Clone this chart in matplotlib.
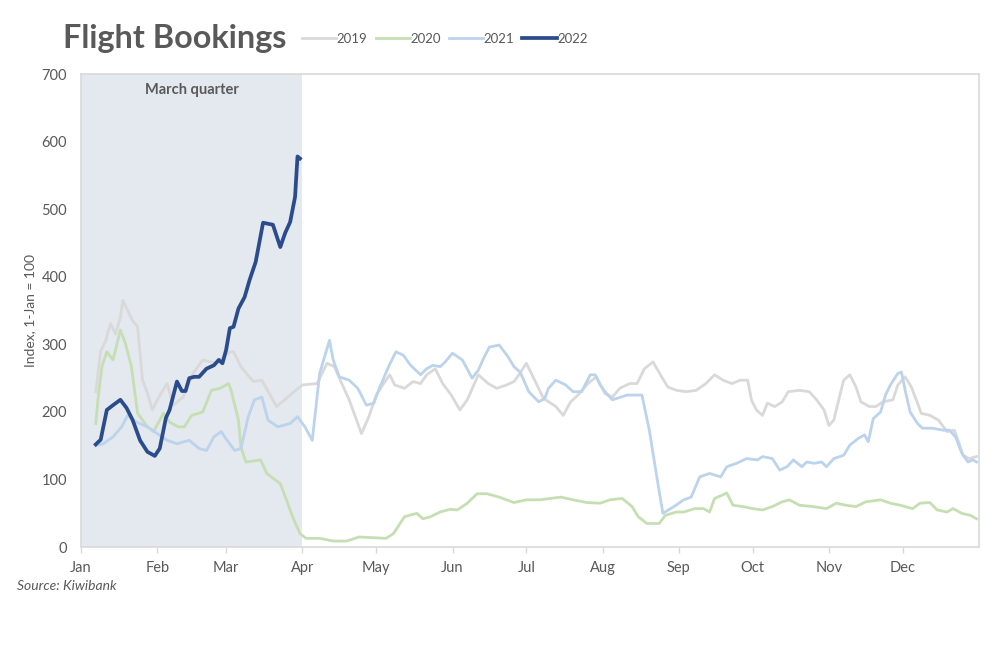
"""
Flight bookings index by calendar year (1-Jan = 100), Kiwibank.
"""

import matplotlib
matplotlib.use('Agg')

import matplotlib.pyplot as plt

# day of year -> index value
days_2019 = [6, 8, 10, 12, 14, 16, 17, 19, 21, 23, 25, 27, 29, 31, 35, 37.5, 41.5, 45.5, 49.5,
             55, 60.5, 62, 65, 70, 73.5, 79.5, 86, 90, 96, 100, 103, 106, 109, 112, 114, 117,
             120, 123, 125.5, 127.5, 131.5, 135, 138, 140.5, 144, 147, 150.5, 154, 157, 161.5,
             165.5, 169, 173, 176, 178, 181, 184, 188, 193, 196, 199, 202, 206, 209.5, 213,
             216, 219, 223, 226, 229, 232.5, 236, 238.5, 242, 246, 250, 254, 257.5, 261,
             264.5, 268, 271, 272.5, 274.5, 277, 279, 282, 285, 287.5, 292, 296, 299, 302,
             304, 306, 308, 310, 312.5, 315, 317, 320.5, 323, 326, 330, 332, 335, 337.5,
             340, 341.5, 345, 348.5, 352, 355, 356.5, 358.5, 361, 364]
vals_2019 = [230, 290, 305, 331, 315, 340, 365, 350, 335, 326, 247, 228, 203, 218, 242, 210,
             222, 257, 277, 272, 289, 289, 267, 245, 247, 208, 228, 240, 242, 272, 267, 242,
             218, 188, 168, 193, 225, 242, 255, 240, 235, 245, 242, 255, 264, 242, 225, 203,
             218, 255, 242, 235, 240, 245, 255, 272, 250, 220, 208, 195, 215, 225, 242, 252,
             227, 222, 235, 242, 242, 264, 274, 252, 237, 232, 230, 232, 242, 255, 247, 242,
             247, 247, 218, 203, 195, 213, 208, 215, 230, 232, 230, 218, 203, 180, 188, 218,
             247, 255, 237, 215, 208, 208, 215, 218, 240, 252, 237, 213, 198, 195, 188, 171,
             173, 158, 136, 131, 134]

days_2020 = [6, 7, 8.5, 10.5, 13, 16, 18, 20.5, 23, 27, 29.5, 33.5, 36, 39.5, 42, 45, 49.5,
             53, 56.5, 60, 61, 64, 65, 67, 73, 75.5, 81, 83.5, 86, 89, 91.5, 97, 102.5, 108,
             113, 124, 127, 131.5, 136.5, 139, 142, 146, 150, 153, 157, 161, 165, 170, 176,
             181, 186.5, 195, 200, 205.5, 211, 215, 220, 224, 226.5, 230, 235, 237.5, 242,
             245, 249.5, 253, 255.5, 257.5, 262.5, 265, 269, 273, 277, 281, 285, 288, 292,
             297.5, 303, 307, 311, 315, 319, 325, 329, 333, 338, 341, 345, 348, 352, 354.5,
             358, 361.5, 364]
vals_2020 = [183, 222, 267, 289, 277, 321, 302, 267, 198, 178, 171, 198, 185, 178, 178, 195,
             200, 232, 235, 242, 232, 188, 148, 126, 129, 109, 94, 70, 45, 20, 13, 13, 9, 9,
             15, 13, 20, 45, 50, 42, 45, 52, 56, 55, 65, 79, 79, 74, 66, 70, 70, 74, 70, 66,
             65, 70, 72, 60, 45, 35, 35, 47, 52, 52, 57, 57, 52, 72, 80, 62, 60, 57, 55, 60,
             67, 70, 62, 60, 57, 65, 62, 60, 67, 70, 65, 62, 57, 65, 66, 55, 52, 57, 50, 47,
             42]

days_2021 = [6, 9, 13, 16.5, 19, 22.5, 27, 31, 35, 39, 44, 48, 51, 54, 57, 59, 62.5, 65, 68,
             70.5, 73.5, 76, 80, 85, 88, 91, 94, 97, 101, 102.5, 105, 109, 112.5, 116, 119,
             121.5, 125, 128, 131, 134, 138, 140.5, 143, 146, 148, 151, 155, 159, 161.5, 164,
             166, 170, 173.5, 176, 178.5, 182, 186, 188.5, 190, 193, 197, 200, 203.5, 207,
             209, 211, 213, 216, 222, 228, 231, 234, 236.5, 241, 245, 248, 251.5, 255.5, 260,
             262.5, 266.5, 270.5, 275, 277, 281, 284, 287, 289.5, 293, 295, 298, 301, 303,
             306, 310, 312.5, 316, 318.5, 320, 322, 325, 327, 329, 332, 333.5, 335, 337,
             340, 342, 346, 350.5, 353, 355.5, 358, 360.5, 362.5, 364]
vals_2021 = [150, 153, 163, 178, 195, 185, 178, 168, 158, 153, 158, 146, 143, 163, 171, 160,
             143, 146, 193, 218, 222, 188, 178, 183, 193, 178, 158, 257, 306, 277, 252, 247,
             235, 210, 213, 237, 267, 289, 284, 269, 255, 264, 269, 267, 274, 287, 277, 250,
             262, 282, 296, 299, 282, 267, 259, 230, 215, 220, 235, 247, 240, 230, 230, 255,
             255, 240, 230, 218, 225, 225, 173, 105, 50, 60, 70, 74, 104, 109, 104, 119, 124,
             131, 129, 134, 131, 114, 119, 129, 119, 126, 124, 126, 119, 131, 136, 151, 161,
             166, 156, 190, 200, 225, 240, 257, 259, 232, 200, 183, 176, 176, 173, 173, 163,
             139, 126, 129, 126]

days_2022 = [6, 8, 10.5, 13, 16, 18.5, 21, 24, 27, 30, 32, 34.5, 36, 39, 41, 42.5, 44, 46, 48,
             51, 54, 56, 57.5, 59, 60.5, 62, 64, 66.5, 68.5, 71, 74, 78, 81, 83, 85, 87, 88,
             89]
vals_2022 = [152, 159, 203, 210, 218, 206, 188, 158, 141, 135, 146, 191, 203, 245, 231, 231,
             250, 252, 252, 264, 269, 277, 272, 292, 324, 326, 353, 370, 395, 422, 480, 477,
             444, 465, 481, 518, 578, 575]

years = ['2019', '2020', '2021', '2022']
colors = ['#D9D9D9', '#C5DFB2', '#BBD3EC', '#2B4C8C']
widths = [2.0, 2.0, 2.0, 2.7]

month_starts = [0, 31, 59, 90, 120, 151, 181, 212, 243, 273, 304, 334]
month_labels = ['Jan', 'Feb', 'Mar', 'Apr', 'May', 'Jun', 'Jul', 'Aug', 'Sep', 'Oct', 'Nov', 'Dec']

text_grey = '#595959'
border_grey = '#D9D9D9'

plt.rcParams['font.family'] = ['Lato', 'DejaVu Sans']

fig = plt.figure(figsize=(10, 6.64), dpi=100)
ax = fig.add_axes([0.081, 0.176, 0.898, 0.7125])

# March quarter shading
ax.axvspan(0, 90, color='#E4E8EF', lw=0, zorder=0)
ax.text(45, 676, 'March quarter', ha='center', va='center', fontsize=10.5,
        fontweight='bold', color=text_grey)

series = [(days_2019, vals_2019), (days_2020, vals_2020),
          (days_2021, vals_2021), (days_2022, vals_2022)]
for (d, v), year, c, w in zip(series, years, colors, widths):
    ax.plot(d, v, color=c, lw=w, label=year, solid_joinstyle='round')

ax.set_xlim(0, 365)
ax.set_ylim(0, 700)
ax.set_xticks(month_starts)
ax.set_xticklabels(month_labels)
ax.set_yticks(range(0, 701, 100))
ax.tick_params(axis='x', colors=text_grey, labelsize=10.5, length=4, width=1,
               color=border_grey, pad=6)
ax.tick_params(axis='y', colors=text_grey, labelsize=10.5, length=0, pad=10)
for sp in ax.spines.values():
    sp.set_color(border_grey)
    sp.set_linewidth(1.2)
ax.set_ylabel('Index, 1-Jan = 100', color=text_grey, fontsize=10, labelpad=4)

fig.text(0.063, 0.942, 'Flight Bookings', fontsize=23.3, fontweight='bold',
         color=text_grey, va='center', ha='left')
fig.legend(loc='center left', bbox_to_anchor=(0.29, 0.942), ncol=4, frameon=False,
           fontsize=9.5, handlelength=2.6, handletextpad=0.05, columnspacing=0.6,
           labelcolor=text_grey)
fig.text(0.017, 0.117, 'Source: Kiwibank', fontsize=10, style='italic', color=text_grey,
         va='center', ha='left')

fig.savefig('out.png', dpi=100)
